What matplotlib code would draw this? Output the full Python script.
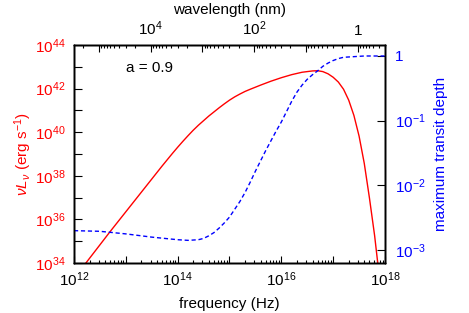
import numpy as np
import matplotlib
matplotlib.use("Agg")
import matplotlib.pyplot as plt
from matplotlib.ticker import LogLocator, NullLocator, NullFormatter, FixedLocator, FixedFormatter

plt.rcParams['font.family'] = ['Liberation Sans', 'DejaVu Sans']
plt.rcParams['mathtext.fontset'] = 'custom'
plt.rcParams['mathtext.rm'] = 'Liberation Sans'
plt.rcParams['mathtext.it'] = 'Liberation Sans:italic'
plt.rcParams['mathtext.bf'] = 'Liberation Sans:bold'

# ---- data (log10 values) ----
lum_lognu = [12.23, 12.70, 13.20, 13.70, 13.90, 14.00, 14.10, 14.20, 14.30, 14.40,
             14.50, 14.60, 14.70, 14.80, 14.90, 15.00, 15.10, 15.20, 15.30, 15.40,
             15.60, 15.80, 16.00, 16.20, 16.40, 16.60, 16.70, 16.80, 16.90, 17.00,
             17.10, 17.20, 17.30, 17.40, 17.50, 17.60, 17.70, 17.80, 17.86]
lum_logL = [34.00, 35.45, 36.95, 38.45, 39.03, 39.31, 39.58, 39.84, 40.09, 40.32,
            40.53, 40.74, 40.93, 41.12, 41.30, 41.47, 41.62, 41.75, 41.87, 41.97,
            42.16, 42.34, 42.50, 42.64, 42.75, 42.81, 42.82, 42.78, 42.68, 42.52,
            42.30, 41.97, 41.47, 40.77, 39.82, 38.57, 36.98, 35.25, 34.00]

depth_lognu = [12.0, 12.5, 13.0, 13.5, 14.0, 14.2, 14.4, 14.5, 14.6, 14.7,
               14.8, 14.9, 15.0, 15.1, 15.2, 15.3, 15.4, 15.5, 15.6, 15.7,
               15.8, 15.9, 16.0, 16.1, 16.2, 16.3, 16.4, 16.5, 16.6, 16.7,
               16.8, 16.9, 17.0, 17.1, 17.2, 17.4, 17.6, 18.0]
depth_logT = [-2.70, -2.71, -2.75, -2.80, -2.84, -2.85, -2.84, -2.82, -2.78, -2.73,
              -2.66, -2.58, -2.49, -2.37, -2.25, -2.11, -1.95, -1.78, -1.62, -1.46,
              -1.31, -1.16, -1.02, -0.86, -0.70, -0.56, -0.45, -0.36, -0.29, -0.23,
              -0.16, -0.11, -0.07, -0.04, -0.02, -0.01, 0.0, 0.0]

freq_ticks = [1e12, 1e13, 1e14, 1e15, 1e16, 1e17, 1e18]
freq_labels = [r'$10^{12}$', '', r'$10^{14}$', '', r'$10^{16}$', '', r'$10^{18}$']
lum_ticks = [10.0**k for k in range(34, 45)]
lum_labels = [r'$10^{%d}$' % k if k % 2 == 0 else '' for k in range(34, 45)]
depth_ticks = [1e-3, 1e-2, 1e-1, 1]
depth_labels = [r'$10^{-3}$', r'$10^{-2}$', r'$10^{-1}$', '1']
wl_ticks = [1, 10, 100, 1e3, 1e4, 1e5]
wl_labels = ['1', '', r'$10^{2}$', '', r'$10^{4}$', '']

c_nm = 2.998e17  # nm/s

fig = plt.figure(figsize=(4.69, 3.13), dpi=100)
ax = fig.add_axes([74/469, 50/313, 311/469, 218/313])

nu1 = 10.0**np.array(lum_lognu)
L = 10.0**np.array(lum_logL)
ax.plot(nu1, L, color='red', lw=1.0)
ax.set_xscale('log')
ax.set_yscale('log')
ax.set_xlim(1e12, 1e18)
ax.set_ylim(1e34, 1e44)

ax.xaxis.set_major_locator(FixedLocator(freq_ticks))
ax.xaxis.set_major_formatter(FixedFormatter(freq_labels))
ax.xaxis.set_minor_locator(LogLocator(base=10, subs=np.arange(2, 10), numticks=20))
ax.xaxis.set_minor_formatter(NullFormatter())
ax.yaxis.set_major_locator(FixedLocator(lum_ticks))
ax.yaxis.set_major_formatter(FixedFormatter(lum_labels))
ax.yaxis.set_minor_locator(NullLocator())

ax.tick_params(axis='x', which='major', direction='in', length=5, width=0.8,
               labelsize=11, pad=5, top=False, bottom=True)
ax.tick_params(axis='x', which='minor', direction='in', length=2.5, width=0.8,
               top=False, bottom=True)
ax.tick_params(axis='y', which='major', direction='in', length=5.5, width=0.8,
               labelsize=11, pad=6, labelcolor='red', right=False)
ax.set_xlabel('frequency (Hz)', fontsize=11, labelpad=6)
ax.set_ylabel(r'$\nu L_\nu$ (erg s$^{-1}$)', fontsize=11, color='red', labelpad=1)
ax.text(0.244, 0.894, 'a = 0.9', transform=ax.transAxes, fontsize=11,
        ha='center', va='center')

# right axis
ax2 = ax.twinx()
nu2 = 10.0**np.array(depth_lognu)
T = 10.0**np.array(depth_logT)
ax2.plot(nu2, T, color='blue', lw=1.0, dashes=(3, 2))
ax2.set_yscale('log')
ax2.set_ylim(10**-3.2, 10**0.17)
ax2.yaxis.set_major_locator(FixedLocator(depth_ticks))
ax2.yaxis.set_major_formatter(FixedFormatter(depth_labels))
ax2.yaxis.set_minor_locator(NullLocator())
ax2.tick_params(axis='y', which='major', direction='in', length=5.5, width=0.8,
                labelsize=11, pad=7, labelcolor='blue')
ax2.set_ylabel('maximum transit depth', fontsize=11, color='blue', labelpad=6)

# top axis: wavelength
ax3 = ax.twiny()
ax3.set_xscale('log')
ax3.set_xlim(c_nm / 1e12, c_nm / 1e18)
ax3.xaxis.set_major_locator(FixedLocator(wl_ticks))
ax3.xaxis.set_major_formatter(FixedFormatter(wl_labels))
ax3.xaxis.set_minor_locator(LogLocator(base=10, subs=np.arange(2, 10), numticks=20))
ax3.xaxis.set_minor_formatter(NullFormatter())
ax3.tick_params(axis='x', which='major', direction='in', length=5, width=0.8,
                labelsize=11, pad=5)
ax3.tick_params(axis='x', which='minor', direction='in', length=2.5, width=0.8)
ax3.set_xlabel('wavelength (nm)', fontsize=11, labelpad=4)

for a in (ax, ax2, ax3):
    for s in a.spines.values():
        s.set_linewidth(1.0)

fig.savefig('out.png', dpi=100)
